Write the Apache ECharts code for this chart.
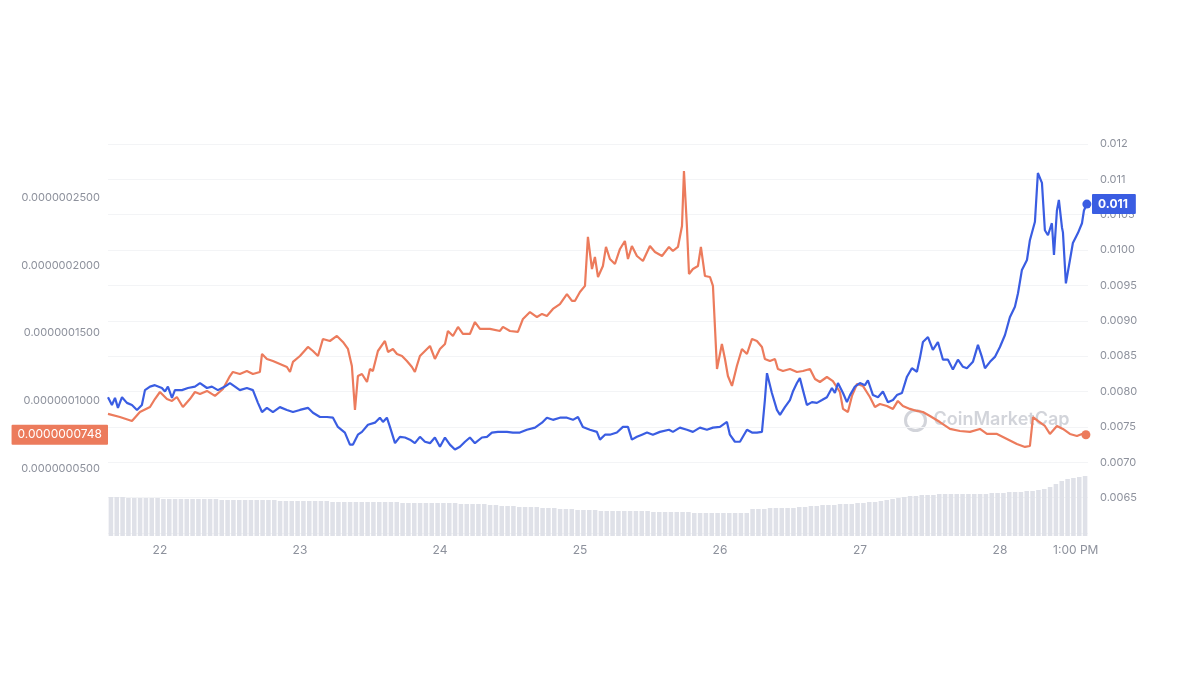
<!DOCTYPE html>
<html>
<head>
<meta charset="utf-8">
<script src="https://cdn.jsdelivr.net/npm/echarts@6/dist/echarts.min.js"></script>
<style>
  html, body { margin: 0; padding: 0; background: #fff; }
  #chart { width: 1200px; height: 675px; }
</style>
</head>
<body>
<div id="chart"></div>
<script>
// red line, left axis: [day, price]
const redPrice = [[21.629,9.02e-8],[21.714,8.79e-8],[21.800,8.50e-8],[21.857,9.16e-8],[21.929,9.53e-8],[21.964,10.12e-8],[22.000,10.64e-8],[22.050,10.12e-8],[22.086,9.98e-8],[22.121,10.27e-8],[22.164,9.53e-8],[22.214,10.12e-8],[22.250,10.64e-8],[22.286,10.49e-8],[22.336,10.72e-8],[22.393,10.35e-8],[22.450,10.86e-8],[22.500,11.82e-8],[22.521,12.12e-8],[22.571,11.97e-8],[22.621,12.19e-8],[22.664,11.97e-8],[22.714,12.12e-8],[22.729,13.45e-8],[22.764,13.08e-8],[22.807,12.93e-8],[22.857,12.71e-8],[22.907,12.49e-8],[22.929,12.12e-8],[22.950,12.86e-8],[23.000,13.30e-8],[23.057,13.97e-8],[23.093,13.67e-8],[23.129,13.30e-8],[23.164,14.56e-8],[23.214,14.41e-8],[23.264,14.78e-8],[23.307,14.34e-8],[23.343,13.82e-8],[23.371,12.56e-8],[23.393,9.31e-8],[23.414,11.82e-8],[23.443,11.97e-8],[23.479,11.38e-8],[23.500,12.34e-8],[23.521,12.19e-8],[23.557,13.67e-8],[23.607,14.41e-8],[23.629,13.60e-8],[23.664,13.82e-8],[23.693,13.45e-8],[23.729,13.30e-8],[23.764,12.93e-8],[23.800,12.49e-8],[23.821,12.12e-8],[23.857,13.30e-8],[23.893,13.67e-8],[23.929,14.04e-8],[23.964,13.08e-8],[24.000,13.82e-8],[24.036,14.19e-8],[24.057,15.15e-8],[24.093,14.78e-8],[24.129,15.45e-8],[24.164,14.93e-8],[24.214,14.93e-8],[24.250,15.81e-8],[24.286,15.30e-8],[24.357,15.30e-8],[24.429,15.15e-8],[24.450,15.45e-8],[24.500,15.15e-8],[24.557,15.08e-8],[24.593,16.04e-8],[24.643,16.55e-8],[24.693,16.18e-8],[24.729,16.41e-8],[24.764,16.26e-8],[24.807,16.78e-8],[24.857,17.14e-8],[24.907,17.88e-8],[24.943,17.37e-8],[24.964,17.37e-8],[25.000,18.03e-8],[25.036,18.48e-8],[25.057,22.10e-8],[25.086,19.73e-8],[25.107,20.62e-8],[25.129,19.14e-8],[25.164,19.95e-8],[25.186,21.36e-8],[25.214,20.47e-8],[25.250,20.10e-8],[25.286,21.21e-8],[25.321,21.80e-8],[25.343,20.47e-8],[25.371,21.43e-8],[25.407,20.69e-8],[25.450,20.32e-8],[25.500,21.43e-8],[25.536,20.99e-8],[25.586,20.69e-8],[25.636,21.36e-8],[25.664,21.06e-8],[25.700,21.36e-8],[25.729,22.91e-8],[25.743,26.97e-8],[25.764,22.91e-8],[25.779,19.36e-8],[25.807,19.73e-8],[25.843,19.95e-8],[25.864,21.36e-8],[25.893,19.21e-8],[25.929,19.14e-8],[25.950,18.48e-8],[25.979,12.34e-8],[26.014,14.19e-8],[26.036,13.08e-8],[26.057,11.82e-8],[26.086,11.09e-8],[26.121,12.56e-8],[26.157,13.82e-8],[26.193,13.45e-8],[26.229,14.56e-8],[26.264,14.41e-8],[26.300,13.97e-8],[26.321,13.08e-8],[26.357,12.93e-8],[26.393,13.08e-8],[26.414,12.34e-8],[26.450,12.19e-8],[26.500,12.34e-8],[26.550,12.12e-8],[26.593,12.19e-8],[26.643,12.34e-8],[26.679,11.60e-8],[26.714,11.38e-8],[26.764,11.75e-8],[26.807,11.45e-8],[26.857,10.64e-8],[26.879,9.39e-8],[26.914,9.16e-8],[26.943,10.35e-8],[26.979,11.23e-8],[27.021,11.09e-8],[27.071,10.27e-8],[27.107,9.53e-8],[27.143,9.75e-8],[27.193,9.61e-8],[27.236,9.39e-8],[27.271,9.98e-8],[27.307,9.61e-8],[27.357,9.39e-8],[27.407,9.24e-8],[27.450,9.16e-8],[27.500,8.87e-8],[27.571,8.42e-8],[27.643,7.91e-8],[27.714,7.76e-8],[27.786,7.69e-8],[27.857,7.91e-8],[27.907,7.54e-8],[27.979,7.54e-8],[28.050,7.17e-8],[28.121,6.80e-8],[28.179,6.58e-8],[28.214,6.65e-8],[28.236,8.79e-8],[28.271,8.50e-8],[28.321,8.13e-8],[28.357,7.54e-8],[28.407,8.13e-8],[28.450,7.91e-8],[28.500,7.54e-8],[28.550,7.39e-8],[28.586,7.54e-8],[28.614,7.48e-8]];

// blue line, right axis: [day, price]
const bluePrice = [[21.629,0.00792],[21.657,0.00781],[21.679,0.00791],[21.700,0.00777],[21.729,0.00792],[21.764,0.00784],[21.800,0.00781],[21.836,0.00774],[21.871,0.00781],[21.893,0.00802],[21.929,0.00807],[21.964,0.00809],[22.014,0.00805],[22.036,0.00800],[22.057,0.00807],[22.086,0.00791],[22.107,0.00802],[22.157,0.00802],[22.200,0.00805],[22.250,0.00807],[22.286,0.00812],[22.336,0.00805],[22.371,0.00807],[22.414,0.00802],[22.464,0.00807],[22.500,0.00812],[22.536,0.00807],[22.571,0.00802],[22.621,0.00805],[22.664,0.00802],[22.700,0.00784],[22.729,0.00771],[22.764,0.00777],[22.807,0.00771],[22.857,0.00778],[22.907,0.00774],[22.950,0.00771],[23.000,0.00774],[23.057,0.00777],[23.093,0.00770],[23.143,0.00764],[23.193,0.00764],[23.236,0.00763],[23.271,0.00750],[23.321,0.00742],[23.357,0.00725],[23.379,0.00725],[23.414,0.00739],[23.443,0.00743],[23.486,0.00753],[23.536,0.00756],[23.571,0.00763],[23.593,0.00757],[23.621,0.00763],[23.643,0.00750],[23.679,0.00727],[23.714,0.00736],[23.750,0.00735],[23.786,0.00732],[23.821,0.00727],[23.857,0.00736],[23.893,0.00729],[23.929,0.00727],[23.964,0.00735],[24.000,0.00722],[24.036,0.00735],[24.071,0.00725],[24.107,0.00718],[24.143,0.00722],[24.179,0.00729],[24.214,0.00735],[24.250,0.00727],[24.300,0.00735],[24.336,0.00736],[24.371,0.00742],[24.414,0.00743],[24.479,0.00743],[24.521,0.00742],[24.571,0.00742],[24.621,0.00746],[24.679,0.00749],[24.729,0.00756],[24.764,0.00763],[24.807,0.00760],[24.857,0.00763],[24.907,0.00763],[24.950,0.00760],[24.986,0.00764],[25.021,0.00750],[25.071,0.00746],[25.121,0.00743],[25.143,0.00732],[25.179,0.00739],[25.214,0.00739],[25.264,0.00742],[25.307,0.00750],[25.343,0.00750],[25.371,0.00732],[25.407,0.00736],[25.443,0.00739],[25.479,0.00742],[25.521,0.00739],[25.571,0.00743],[25.636,0.00746],[25.664,0.00743],[25.714,0.00749],[25.764,0.00746],[25.807,0.00743],[25.857,0.00749],[25.907,0.00746],[25.950,0.00749],[26.000,0.00750],[26.050,0.00757],[26.071,0.00739],[26.107,0.00729],[26.143,0.00729],[26.193,0.00746],[26.229,0.00742],[26.264,0.00742],[26.300,0.00743],[26.321,0.00788],[26.336,0.00826],[26.371,0.00798],[26.407,0.00774],[26.429,0.00767],[26.464,0.00778],[26.500,0.00788],[26.521,0.00800],[26.550,0.00812],[26.571,0.00819],[26.593,0.00802],[26.621,0.00781],[26.657,0.00785],[26.693,0.00784],[26.729,0.00788],[26.764,0.00792],[26.800,0.00805],[26.821,0.00798],[26.843,0.00812],[26.879,0.00798],[26.907,0.00785],[26.929,0.00795],[26.964,0.00807],[27.000,0.00812],[27.036,0.00809],[27.057,0.00816],[27.093,0.00795],[27.129,0.00792],[27.164,0.00800],[27.200,0.00785],[27.236,0.00788],[27.264,0.00795],[27.300,0.00798],[27.336,0.00821],[27.371,0.00833],[27.407,0.00828],[27.429,0.00848],[27.450,0.00870],[27.486,0.00877],[27.521,0.00859],[27.557,0.00870],[27.593,0.00845],[27.629,0.00845],[27.664,0.00831],[27.700,0.00845],[27.736,0.00835],[27.764,0.00833],[27.807,0.00842],[27.843,0.00866],[27.871,0.00849],[27.893,0.00833],[27.929,0.00842],[27.964,0.00849],[28.000,0.00863],[28.036,0.00880],[28.071,0.00905],[28.107,0.00920],[28.129,0.00939],[28.157,0.00972],[28.193,0.00986],[28.214,0.01014],[28.250,0.01040],[28.271,0.01109],[28.300,0.01095],[28.321,0.01028],[28.343,0.01021],[28.371,0.01038],[28.386,0.00993],[28.407,0.01056],[28.421,0.01071],[28.443,0.01032],[28.450,0.01025],[28.471,0.00953],[28.500,0.00986],[28.521,0.01010],[28.557,0.01024],[28.586,0.01038],[28.600,0.01056],[28.621,0.01065]];

// hourly volume (relative, no scale shown)
const volume = [
  39,39,39,38,38,38,38,38,38,37,37,37,37,37,37,37,37,37,37,36,36,36,36,36,
  36,36,36,36,36,35,35,35,35,35,35,35,35,35,34,34,34,34,34,34,34,34,34,34,
  34,34,33,33,33,33,33,33,33,33,33,33,32,32,32,32,32,31,31,30,30,30,29,29,
  29,29,28,28,28,27,27,27,26,26,26,26,25,25,25,25,25,25,25,25,25,24,24,24,
  24,24,24,24,23,23,23,23,23,23,23,23,23,23,27,27,27,28,28,28,28,28,29,29,
  30,30,31,31,31,32,32,32,33,33,34,34,35,36,37,38,39,40,40,41,41,41,42,42,
  42,42,42,42,42,42,42,43,43,43,44,44,44,45,45,46,47,49,52,55,57,58,59,60
];

const xTickDays = [22, 23, 24, 25, 26, 27, 28, 28 + 13 / 24];
const xTickLabels = ['22', '23', '24', '25', '26', '27', '28', '1:00 PM'];
const leftTickLabels = ['', '0.0000000500', '0.0000001000', '0.0000001500', '0.0000002000', '0.0000002500', ''];
const rightTickLabels = ['', '0.0065', '0.0070', '0.0075', '0.0080', '0.0085', '0.0090', '0.0095', '0.0100', '0.0105', '0.011', '0.012'];

const red = '#ec7b5c';
const blue = '#3a5de2';
const tickColor = '#8d919c';
const xMin = 21.629, xMax = 28.629;

var chartDom = document.getElementById('chart');
var myChart = echarts.init(chartDom);
var option;

const lastRed = redPrice[redPrice.length - 1];
const lastBlue = bluePrice[bluePrice.length - 1];

option = {
    animation: false,
    backgroundColor: '#fff',
    textStyle: { fontFamily: 'Inter' },
    grid: [
        { left: 108, right: 112, top: 130, bottom: 139 },
        { left: 108, right: 112, top: 144, bottom: 142 },
        { left: 108, right: 112, top: 476, bottom: 139 }
    ],
    xAxis: [
        {
            type: 'value', gridIndex: 0, min: xMin, max: xMax,
            axisLine: { show: false }, axisTick: { show: false }, splitLine: { show: false },
            axisLabel: {
                customValues: xTickDays,
                color: tickColor, fontSize: 12, margin: 8,
                formatter: function (v) {
                    const i = xTickDays.findIndex(d => Math.abs(d - v) < 1e-6);
                    return i >= 0 ? xTickLabels[i] : '';
                }
            }
        },
        { type: 'value', gridIndex: 1, min: xMin, max: xMax, show: false },
        {
            type: 'category', gridIndex: 2, show: false,
            data: volume.map((v, i) => i)
        }
    ],
    yAxis: [
        {
            type: 'value', gridIndex: 0, position: 'left',
            min: 0, max: 3e-7, interval: 5e-8,
            axisLine: { show: false }, axisTick: { show: false }, splitLine: { show: false },
            axisLabel: {
                color: tickColor, fontSize: 11, margin: 8,
                formatter: function (v) { return leftTickLabels[Math.round(v / 5e-8)] || ''; }
            }
        },
        {
            type: 'value', gridIndex: 1, position: 'right',
            min: 0.006, max: 0.0115, interval: 0.0005,
            axisLine: { show: false }, axisTick: { show: false },
            splitLine: { lineStyle: { color: '#f3f4f6', width: 1 } },
            axisLabel: {
                color: tickColor, fontSize: 11, margin: 12,
                formatter: function (v) { return rightTickLabels[Math.round((v - 0.006) / 0.0005)] || ''; }
            }
        },
        { type: 'value', gridIndex: 2, min: 0, max: 60, show: false }
    ],
    series: [
        {
            name: 'volume',
            type: 'bar',
            xAxisIndex: 2, yAxisIndex: 2,
            data: volume,
            barCategoryGap: '22%',
            itemStyle: { color: '#dfe1e8' },
            z: 1
        },
        {
            name: 'red',
            type: 'line',
            xAxisIndex: 0, yAxisIndex: 0,
            data: redPrice,
            showSymbol: false,
            lineStyle: { color: red, width: 2.2 },
            itemStyle: { color: red },
            z: 3,
            markPoint: {
                symbol: 'circle', symbolSize: 9,
                itemStyle: { color: red },
                label: { show: false },
                data: [{ coord: lastRed }]
            },
            markLine: {
                silent: true, symbol: 'none', precision: 12,
                lineStyle: { color: 'rgba(0,0,0,0)', width: 1, type: 'solid' },
                label: {
                    show: true, position: 'start', distance: 0,
                    color: '#fff', backgroundColor: red, fontSize: 12,
                    padding: [4, 6, 4, 6], borderRadius: 1,
                    formatter: function (p) { return p.value.toFixed(10); }
                },
                data: [{ yAxis: lastRed[1] }]
            }
        },
        {
            name: 'blue',
            type: 'line',
            xAxisIndex: 1, yAxisIndex: 1,
            data: bluePrice,
            showSymbol: false,
            lineStyle: { color: blue, width: 2.2 },
            itemStyle: { color: blue },
            z: 4,
            markPoint: {
                symbol: 'circle', symbolSize: 9,
                itemStyle: { color: blue },
                label: { show: false },
                data: [{ coord: lastBlue }]
            },
            markLine: {
                silent: true, symbol: 'none', precision: 12,
                lineStyle: { color: 'rgba(0,0,0,0)', width: 1, type: 'solid' },
                label: {
                    show: true, position: 'end', distance: 4,
                    color: '#fff', backgroundColor: blue, fontSize: 12, fontWeight: 'bold',
                    padding: [4, 8, 4, 6], borderRadius: 1,
                    formatter: function (p) { return p.value.toFixed(3); }
                },
                data: [{ yAxis: lastBlue[1] }]
            }
        }
    ],
    graphic: [
        {
            type: 'group', left: 903, top: 408, z: 10, silent: true,
            children: [
                { type: 'circle', shape: { cx: 12, cy: 12, r: 10 }, style: { fill: 'none', stroke: 'rgba(165,170,182,0.5)', lineWidth: 3 } },
                { type: 'text', left: 30, top: 2, style: { text: 'CoinMarketCap', fill: 'rgba(165,170,182,0.5)', font: '600 18px Inter' } }
            ]
        }
    ]
};

option && myChart.setOption(option);
</script>
</body>
</html>
